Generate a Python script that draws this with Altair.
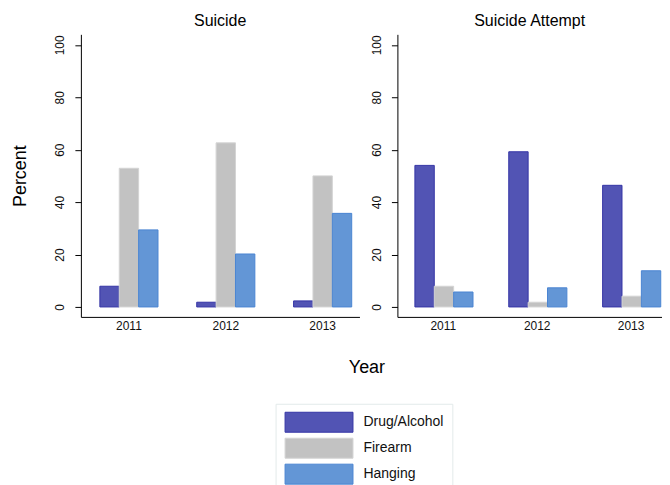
import altair as alt
import pandas as pd

years = ["2011", "2012", "2013"]
causes = ["Drug/Alcohol", "Firearm", "Hanging"]

suicide_drug = [7.9, 1.8, 2.3]
suicide_firearm = [52.9, 62.6, 50.0]
suicide_hanging = [29.4, 20.2, 35.7]

attempt_drug = [54.0, 59.2, 46.4]
attempt_firearm = [7.9, 1.8, 4.1]
attempt_hanging = [5.7, 7.3, 13.8]

fills = ["#5254b4", "#c2c2c2", "#6396d6"]
strokes = ["#3535a6", "#d4d4d4", "#4a85d2"]

FONT = "Liberation Sans"


def make_df(drug, firearm, hanging):
    rows = []
    for i, y in enumerate(years):
        for c, vals in zip(causes, [drug, firearm, hanging]):
            rows.append({"year": y, "cause": c, "value": vals[i]})
    return pd.DataFrame(rows)


df_s = make_df(suicide_drug, suicide_firearm, suicide_hanging)
df_a = make_df(attempt_drug, attempt_firearm, attempt_hanging)

legend = alt.Legend(
    title=None,
    orient="none",
    legendX=195,
    legendY=370,
    direction="vertical",
    symbolType="M-3.4,-1H3.4V1H-3.4Z",
    symbolSize=400,
    symbolOffset=25,
    symbolStrokeWidth=1,
    labelOffset=34,
    labelFont=FONT,
    labelFontSize=14,
    labelColor="#111111",
    rowPadding=1,
    padding=8,
    strokeColor="#e3eaea",
    fillColor="white",
)


def panel(df, title, left, width, pin, pout, align):
    yaxis = alt.Axis(
        values=[0, 20, 40, 60, 80, 100],
        grid=False,
        domainColor="black",
        tickColor="black",
        tickSize=6,
        labelAngle=270,
        labelFont=FONT,
        labelFontSize=12,
        labelColor="#111111",
        labelPadding=8,
        title="Percent" if left else None,
        titleFont=FONT,
        titleFontSize=18,
        titleFontWeight="normal",
        titleColor="black",
        titlePadding=24,
    )
    xaxis = alt.Axis(
        labelAngle=0,
        ticks=False,
        domainColor="black",
        labelFont=FONT,
        labelFontSize=12,
        labelColor="#111111",
        labelPadding=4,
        title="Year" if left else None,
        titleFont=FONT,
        titleFontSize=18,
        titleFontWeight="normal",
        titleColor="black",
        titleX=286,
        titleY=42,
    )
    return alt.Chart(df).mark_bar(strokeWidth=1).encode(
        x=alt.X("year:N", sort=years, axis=xaxis,
                scale=alt.Scale(paddingInner=pin, paddingOuter=pout, align=align)),
        xOffset=alt.XOffset("cause:N", sort=causes,
                            scale=alt.Scale(paddingInner=0, paddingOuter=0)),
        y=alt.Y("value:Q", axis=yaxis,
                scale=alt.Scale(domain=[-3.8, 104], nice=False)),
        fill=alt.Fill("cause:N", sort=causes,
                      scale=alt.Scale(domain=causes, range=fills), legend=legend),
        stroke=alt.Stroke("cause:N", sort=causes,
                          scale=alt.Scale(domain=causes, range=strokes), legend=legend),
    ).properties(
        width=width, height=283,
        title=alt.TitleParams(title, font=FONT, fontSize=16, fontWeight="normal",
                              color="black", offset=5),
    )


chart = alt.hconcat(
    panel(df_s, "Suicide", True, 279, 0.4, 0.138, 0.71),
    panel(df_a, "Suicide Attempt", False, 265, 0.394, 0.1065, 0.875),
    spacing=38,
    bounds="flush",
).properties(
    padding={"left": 4, "top": 5, "right": 0, "bottom": 5},
).configure(background="white").configure_view(stroke=None)

chart.save("out.html", embed_options={"renderer": "svg", "actions": False})
